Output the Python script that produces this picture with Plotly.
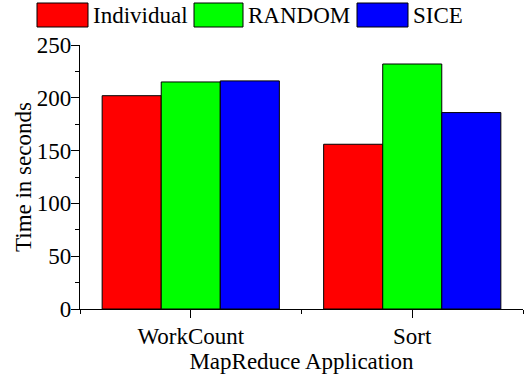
import plotly.graph_objects as go

categories = ["WorkCount", "Sort"]
series_names = ["Individual", "RANDOM", "SICE"]
individual = [202, 156]
random_vals = [215, 232]
sice = [216, 186]
colors = ["#ff0000", "#00ff00", "#0000ff"]
y_ticks = [0, 50, 100, 150, 200, 250]

FONT = "Liberation Serif"
FS = 23
xpos = list(range(len(categories)))

fig = go.Figure()
for name, vals, col in zip(series_names, [individual, random_vals, sice], colors):
    fig.add_trace(go.Bar(
        x=xpos, y=vals, name=name,
        marker=dict(color=col, line=dict(color="#000000", width=1)),
        showlegend=False,
    ))

fig.update_layout(
    width=526, height=379,
    margin=dict(l=80, r=3, t=45, b=70),
    paper_bgcolor="white", plot_bgcolor="white",
    barmode="group", bargap=0.2, bargroupgap=0,
    font=dict(family=FONT, size=FS, color="black"),
)

fig.update_xaxes(
    range=[-0.5, len(categories) - 0.5],
    tickvals=xpos, ticktext=categories,
    ticks="outside", ticklen=8, tickwidth=1.3, tickcolor="black",
    showline=True, linecolor="black", linewidth=1.3,
    showgrid=False, zeroline=False,
    minor=dict(tickvals=[i - 0.5 for i in range(len(categories) + 1)],
               ticks="outside", ticklen=4, tickwidth=1.3, tickcolor="black", showgrid=False),
    title=dict(text="MapReduce Application", standoff=0, font=dict(family=FONT, size=FS)),
    tickfont=dict(family=FONT, size=FS),
    ticklabelstandoff=-2,
)
fig.update_yaxes(
    range=[0, 250],
    tickvals=y_ticks,
    ticks="outside", ticklen=8, tickwidth=1.3, tickcolor="black",
    showline=True, linecolor="black", linewidth=1.3,
    showgrid=False, zeroline=False,
    minor=dict(dtick=25, tick0=0, ticks="outside", ticklen=4, tickwidth=1.3,
               tickcolor="black", showgrid=False),
    tickfont=dict(family=FONT, size=FS),
    ticklabelstandoff=-5,
)

# Rotated y-axis title placed beside the tick labels
fig.add_annotation(xref="paper", yref="paper", x=(23 - 80) / 443, y=0.5,
                   text="Time in seconds", textangle=-90, showarrow=False,
                   xanchor="center", yanchor="middle",
                   font=dict(family=FONT, size=FS, color="black"))

# Legend row across the top: swatch rectangles with labels
swatch_x = [(37, 88), (194, 243), (357, 408)]
for (x0, x1), name, col in zip(swatch_x, series_names, colors):
    fig.add_shape(type="rect", xref="paper", yref="paper",
                  x0=(x0 - 80) / 443, x1=(x1 - 80) / 443,
                  y0=(309 - 27) / 264, y1=(309 - 3) / 264,
                  fillcolor=col, line=dict(color="black", width=1))
    fig.add_annotation(xref="paper", yref="paper",
                       x=(x1 + 3 - 80) / 443, y=(309 - 15) / 264,
                       text=name, showarrow=False, xanchor="left", yanchor="middle",
                       font=dict(family=FONT, size=FS, color="black"))

fig.write_html("out.html")
